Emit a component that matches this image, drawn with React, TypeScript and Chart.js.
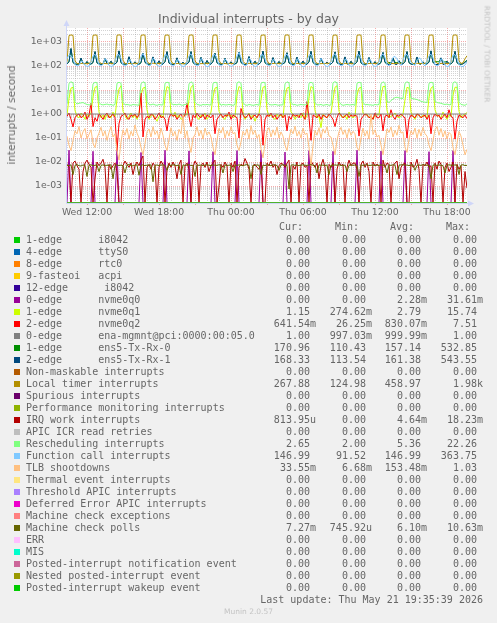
import React, { useEffect, useRef } from 'react';
import { Chart, registerables } from 'chart.js';

Chart.register(...registerables);

// time axis: minutes since Wed 00:00, one sample every 10 minutes
const START_MIN = 620; // Wed 10:20
const STEP_MIN = 10;
const END_MIN = 2620; // Thu 19:40
const HOUR_TICKS_FROM = 660;
const HOUR_TICKS_TO = 2580;
const X_LABEL_VALUES = [720, 1080, 1440, 1800, 2160, 2520];
const X_LABELS = ['Wed 12:00', 'Wed 18:00', 'Thu 00:00', 'Thu 06:00', 'Thu 12:00', 'Thu 18:00'];
const Y_MIN = 1.96e-4;
const Y_MAX = 3830;

const TITLE = 'Individual interrupts - by day';
const Y_TITLE = 'interrupts / second';

const LOCAL_TIMER = [
  150, 1850, 1970, 1890, 165, 128, 124, 127, 131, 126, 125, 129,
  142, 1880, 1960, 1920, 158, 126, 130, 127, 125, 133, 128, 126,
  147, 1900, 1980, 1910, 172, 129, 125, 128, 126, 124, 131, 127,
  139, 1870, 1975, 1930, 160, 127, 126, 132, 125, 128, 126, 130,
  151, 1890, 1965, 1900, 166, 125, 128, 126, 129, 127, 124, 128,
  144, 1860, 1980, 1915, 163, 130, 126, 125, 127, 131, 126, 127,
  148, 1895, 1970, 1925, 169, 126, 129, 127, 124, 126, 130, 125,
  141, 1880, 1975, 1905, 157, 128, 125, 130, 126, 127, 125, 129,
  153, 1870, 1960, 1935, 171, 127, 128, 126, 131, 125, 127, 126,
  146, 1900, 1980, 1910, 164, 125, 130, 128, 127, 129, 126, 128,
  140, 1885, 1970, 1920, 159, 129, 126, 125, 128, 126, 131, 127,
  149, 1875, 1965, 1900, 167, 126, 127, 130, 125, 128, 126, 125,
  143, 1890, 1975, 1930, 162, 128, 125, 127, 129, 126, 128, 130,
  150, 1865, 1980, 1915, 170, 127, 129, 126, 125, 131, 127, 126,
  145, 1895, 1970, 1905, 161, 125, 128, 130, 127, 126, 129, 128,
  147, 1880, 1960, 1925, 168, 129, 126, 127, 131, 125, 127, 126,
  142, 1890, 1975, 1910, 165, 128, 135, 200, 268,
];

const ENS5_TXRX1 = [
  125, 150, 540, 140, 121, 118, 123, 215, 130, 119, 155, 122,
  120, 140, 400, 135, 124, 117, 121, 205, 128, 122, 160, 118,
  123, 145, 430, 138, 119, 121, 118, 245, 126, 120, 150, 121,
  118, 138, 340, 142, 122, 119, 124, 240, 131, 118, 165, 120,
  121, 152, 400, 133, 120, 116, 122, 220, 125, 121, 145, 119,
  124, 146, 400, 139, 118, 120, 119, 230, 129, 117, 170, 123,
  119, 155, 340, 136, 123, 118, 121, 210, 127, 122, 150, 120,
  122, 139, 380, 141, 121, 115, 124, 250, 124, 119, 160, 118,
  120, 148, 420, 137, 119, 121, 118, 225, 130, 120, 155, 122,
  125, 142, 360, 134, 122, 117, 123, 235, 126, 118, 162, 119,
  118, 151, 410, 140, 120, 119, 121, 215, 128, 121, 148, 121,
  121, 147, 390, 136, 124, 116, 120, 240, 125, 117, 158, 120,
  123, 149, 420, 135, 118, 120, 122, 228, 131, 119, 152, 118,
  119, 141, 370, 142, 118, 115, 116, 212, 118, 116, 166, 117,
  122, 153, 400, 138, 120, 118, 123, 238, 124, 120, 150, 119,
  120, 145, 430, 139, 116, 115, 117, 220, 116, 115, 158, 122,
  124, 150, 410, 137, 120, 119, 122, 140, 168,
];

const ENS5_TXRX0 = [
  124, 148, 520, 139, 120, 119, 122, 210, 128, 118, 150, 121,
  121, 139, 390, 134, 123, 118, 120, 200, 127, 121, 155, 119,
  122, 144, 415, 137, 120, 120, 119, 238, 125, 121, 148, 120,
  119, 137, 335, 141, 121, 118, 123, 232, 129, 119, 160, 121,
  120, 150, 390, 132, 121, 117, 121, 215, 124, 120, 142, 118,
  123, 145, 392, 138, 119, 119, 120, 225, 128, 118, 165, 122,
  120, 153, 335, 135, 122, 119, 120, 205, 126, 121, 148, 121,
  121, 138, 372, 140, 120, 116, 123, 242, 123, 120, 156, 119,
  119, 147, 410, 136, 120, 120, 119, 220, 129, 119, 152, 121,
  124, 141, 352, 133, 121, 118, 122, 230, 125, 119, 158, 120,
  119, 150, 400, 139, 121, 118, 120, 210, 127, 120, 146, 120,
  120, 146, 382, 135, 123, 117, 121, 235, 124, 118, 155, 119,
  122, 148, 410, 134, 119, 119, 121, 222, 129, 120, 150, 119,
  120, 140, 360, 141, 125, 140, 138, 215, 142, 136, 160, 135,
  123, 152, 392, 137, 121, 119, 122, 232, 125, 121, 148, 120,
  128, 144, 420, 138, 150, 152, 148, 215, 150, 146, 157, 125,
  122, 149, 400, 136, 121, 118, 125, 150, 171,
];

const FUNCTION_CALL = [
  200, 290, 270, 210, 115, 100, 105, 160, 150, 104, 97, 99,
  150, 260, 310, 220, 112, 98, 118, 200, 175, 106, 96, 100,
  160, 280, 300, 200, 110, 99, 112, 190, 160, 103, 95, 98,
  140, 250, 330, 230, 118, 101, 110, 210, 180, 108, 97, 100,
  170, 300, 280, 190, 113, 97, 115, 185, 165, 102, 96, 99,
  155, 270, 320, 215, 116, 100, 108, 205, 170, 105, 94, 98,
  165, 285, 300, 205, 111, 98, 117, 195, 160, 104, 97, 101,
  145, 260, 363, 225, 119, 102, 110, 215, 175, 107, 95, 99,
  160, 290, 290, 200, 114, 99, 113, 190, 165, 103, 96, 100,
  150, 275, 315, 220, 117, 100, 111, 200, 170, 106, 92, 98,
  170, 280, 305, 210, 112, 97, 116, 210, 160, 104, 95, 101,
  155, 265, 325, 215, 115, 101, 109, 195, 175, 105, 97, 99,
  160, 280, 295, 205, 113, 98, 114, 200, 165, 103, 96, 100,
  150, 260, 320, 225, 118, 100, 140, 230, 250, 200, 130, 105,
  175, 290, 300, 210, 140, 120, 105, 180, 220, 190, 120, 100,
  160, 270, 310, 220, 115, 100, 112, 200, 175, 106, 95, 99,
  165, 285, 300, 210, 116, 97, 95, 110, 147,
];

const RESCHEDULING = [
  2.5, 19, 22, 20, 3.2, 2.6, 2.8, 2.9, 3.0, 2.7, 2.5, 2.4,
  2.4, 18, 21, 20, 3.0, 2.5, 2.4, 2.5, 2.6, 2.4, 2.5, 2.3,
  2.5, 19, 21, 19, 3.1, 2.4, 2.5, 2.4, 2.3, 2.5, 2.4, 2.4,
  2.3, 18, 22, 20, 3.3, 2.5, 2.4, 2.6, 2.4, 2.3, 2.5, 2.4,
  2.4, 19, 21, 20, 3.0, 2.4, 2.5, 2.4, 2.6, 2.4, 2.3, 2.5,
  2.5, 18, 22, 19, 3.2, 2.5, 2.4, 2.3, 2.5, 2.4, 2.5, 2.4,
  2.4, 19, 21, 20, 3.1, 2.3, 2.5, 2.4, 2.4, 2.5, 2.4, 2.3,
  2.5, 20, 22, 19, 3.0, 2.4, 2.3, 2.5, 2.4, 2.3, 2.4, 2.5,
  2.3, 19, 21, 20, 3.2, 2.5, 2.4, 2.4, 2.5, 2.4, 2.3, 2.4,
  2.4, 18, 22, 20, 3.1, 2.4, 2.5, 2.3, 2.4, 2.5, 2.4, 2.4,
  2.5, 19, 21, 19, 3.0, 2.4, 2.4, 2.5, 2.3, 2.4, 2.5, 2.3,
  2.4, 20, 22.26, 20, 3.3, 2.5, 2.3, 2.4, 2.5, 2.4, 2.4, 2.5,
  2.3, 19, 21, 20, 3.1, 2.4, 2.5, 2.4, 2.4, 2.3, 2.5, 2.4,
  2.5, 18, 22, 19, 3.4, 3.0, 3.6, 4.2, 4.8, 5.0, 4.7, 4.5,
  4.4, 19, 22, 20, 4.6, 4.3, 4.2, 4.0, 3.7, 3.4, 3.2, 3.1,
  3.0, 19, 21, 20, 3.5, 3.0, 2.9, 2.8, 2.6, 2.5, 2.6, 2.4,
  2.5, 20, 22, 19, 3.2, 2.5, 2.4, 2.3, 2.65,
];

const NVME0Q1 = [
  0.9, 4.5, 12, 13, 1.4, 0.8, 0.7, 1.1, 0.9, 0.6, 1.0, 0.8,
  1.1, 5, 13, 14, 1.2, 0.7, 0.9, 0.6, 1.0, 0.8, 0.7, 1.2,
  0.8, 4, 11, 15, 1.3, 0.9, 0.6, 0.8, 1.1, 0.7, 0.9, 0.6,
  1.0, 6, 12, 13, 1.5, 0.6, 0.8, 1.0, 0.7, 0.5, 0.8, 0.9,
  0.7, 5, 14, 12, 1.1, 0.8, 1.2, 0.7, 0.9, 0.6, 0.7, 1.0,
  0.9, 4, 13, 15.7, 1.4, 0.7, 0.6, 0.9, 0.8, 1.1, 0.6, 0.8,
  1.2, 5, 12, 13, 1.3, 0.9, 0.7, 0.6, 1.0, 0.8, 0.9, 0.7,
  0.8, 6, 14, 12, 1.2, 0.6, 0.8, 1.1, 0.7, 0.9, 0.5, 0.8,
  1.0, 4, 13, 14, 1.5, 0.8, 0.9, 0.7, 0.6, 1.0, 0.8, 0.9,
  0.7, 5, 12, 13, 1.2, 1.0, 0.6, 0.8, 0.9, 0.7, 1.1, 0.6,
  0.9, 5, 14, 12, 1.4, 0.7, 0.8, 0.27, 1.0, 0.8, 0.7, 0.9,
  1.1, 4, 13, 15, 1.3, 0.8, 0.7, 0.9, 0.6, 1.2, 0.8, 0.7,
  0.8, 6, 12, 13, 1.1, 0.9, 1.0, 0.7, 0.8, 0.6, 0.9, 1.0,
  0.9, 5, 14, 14, 1.4, 0.7, 0.8, 0.9, 1.1, 0.8, 0.7, 0.8,
  1.0, 4, 13, 12, 1.2, 0.8, 0.6, 1.0, 0.9, 0.7, 0.9, 0.8,
  0.7, 5, 12, 14, 1.5, 0.9, 0.8, 0.7, 1.2, 0.8, 0.6, 0.9,
  0.8, 6, 13, 13, 1.3, 0.7, 0.9, 1.0, 1.15,
];

const NVME0Q2 = [
  0.8, 1.1, 0.6, 0.29, 0.7, 0.9, 1.0, 0.7, 0.8, 1.2, 0.6, 0.9,
  2.8, 0.3, 0.7, 0.5, 1.0, 0.8, 0.6, 0.9, 1.1, 0.7, 0.8, 1.0,
  0.7, 0.03, 0.4, 0.8, 0.9, 1.1, 0.7, 0.6, 0.9, 0.8, 1.0, 0.7,
  0.9, 7.5, 0.11, 0.6, 0.8, 0.7, 1.0, 0.9, 0.6, 0.8, 1.1, 0.7,
  0.8, 0.6, 0.2, 0.7, 1.0, 0.8, 0.9, 0.6, 0.8, 1.0, 0.7, 0.9,
  2.8, 0.8, 0.3, 0.9, 0.7, 1.1, 0.8, 0.7, 1.0, 0.6, 0.9, 0.8,
  0.7, 0.9, 0.15, 0.6, 0.8, 1.0, 0.7, 0.9, 0.8, 1.2, 0.6, 0.9,
  0.8, 0.7, 0.1, 1.7, 0.9, 0.7, 0.8, 1.0, 0.6, 0.8, 0.9, 0.7,
  1.0, 0.8, 0.05, 0.6, 0.9, 0.8, 1.1, 0.7, 0.9, 0.6, 0.8, 1.0,
  0.7, 0.9, 0.2, 0.8, 0.6, 1.0, 0.8, 0.9, 0.7, 1.1, 0.8, 0.6,
  3.3, 0.7, 0.08, 0.9, 0.8, 0.7, 1.0, 0.6, 0.9, 0.8, 0.7, 1.0,
  0.8, 0.6, 0.3, 0.7, 1.1, 0.9, 0.7, 0.8, 1.0, 0.7, 0.9, 0.8,
  0.9, 0.8, 0.12, 0.6, 0.8, 1.0, 0.9, 0.7, 0.8, 0.6, 1.1, 0.7,
  0.7, 1.0, 0.2, 0.8, 0.9, 0.7, 1.5, 0.8, 0.6, 0.9, 0.8, 1.0,
  0.8, 0.7, 0.1, 0.6, 0.9, 0.8, 0.7, 1.0, 0.9, 0.7, 0.8, 0.9,
  0.6, 0.9, 0.15, 0.7, 1.0, 0.8, 0.9, 0.6, 0.8, 1.0, 0.7, 1.5,
  0.8, 0.7, 0.09, 0.5, 0.9, 0.8, 0.7, 0.9, 0.64,
];

const TLB_SHOOTDOWNS = [
  0.12, 0.05, 0.03, 0.08, 0.2, 0.15, 0.3, 0.1, 0.18, 0.25, 0.09, 0.14,
  0.22, 0.06, 0.04, 0.1, 0.16, 0.28, 0.12, 0.2, 0.08, 0.17, 0.3, 0.11,
  0.15, 0.03, 0.012, 0.07, 0.22, 0.13, 0.25, 0.09, 0.19, 0.12, 0.35, 0.16,
  0.1, 0.04, 0.02, 0.06, 0.18, 0.24, 0.11, 0.3, 0.14, 0.2, 0.09, 0.26,
  0.13, 0.05, 0.03, 0.09, 0.27, 0.12, 0.19, 0.08, 0.23, 0.15, 0.9, 0.1,
  0.2, 0.06, 0.025, 0.1, 0.14, 0.3, 0.12, 0.21, 0.09, 0.26, 0.13, 0.18,
  0.11, 0.04, 0.02, 0.08, 0.25, 0.16, 0.28, 0.1, 0.2, 0.12, 0.3, 0.15,
  0.17, 0.05, 0.03, 0.07, 0.19, 0.13, 0.24, 0.09, 0.33, 0.14, 0.21, 0.1,
  0.14, 0.035, 0.015, 0.06, 0.2, 0.27, 0.11, 0.22, 0.13, 0.29, 0.1, 0.18,
  0.12, 0.05, 0.03, 0.09, 0.23, 0.15, 0.31, 0.12, 0.19, 0.1, 0.26, 0.14,
  0.16, 0.04, 0.007, 0.05, 0.21, 0.13, 0.27, 0.1, 0.24, 0.16, 0.3, 0.12,
  0.11, 0.05, 0.02, 0.08, 0.18, 0.28, 0.14, 0.22, 0.1, 0.25, 0.13, 0.19,
  0.15, 0.04, 0.03, 0.1, 0.26, 0.12, 0.2, 0.09, 1.0, 0.14, 0.22, 0.11,
  0.13, 0.05, 0.02, 0.07, 0.24, 0.17, 0.29, 0.11, 0.21, 0.13, 0.34, 0.16,
  0.18, 0.04, 0.025, 0.09, 0.2, 0.14, 0.26, 0.1, 0.23, 0.12, 0.28, 0.15,
  0.12, 0.05, 0.03, 0.08, 0.22, 0.3, 0.13, 0.25, 0.11, 0.2, 0.09, 0.17,
  0.14, 0.04, 0.02, 0.06, 0.19, 0.12, 0.05, 0.02, 0.034,
];

const IRQ_WORK = [
  0.008, 0.006, 0, 0.009, 0.011, 0.007, 0.005, 0, 0.004, 0.009, 0.012, 0.008,
  0.006, 0, 0.002, 0.01, 0.007, 0.009, 0.013, 0.006, 0, 0.008, 0.005, 0.007,
  0.009, 0.004, 0, 0, 0.007, 0.011, 0.008, 0.006, 0.009, 0.003, 0.007, 0.01,
  0.007, 0.012, 0.018, 0, 0.006, 0.008, 0.005, 0.009, 0.007, 0, 0.006, 0.011,
  0.008, 0, 0.005, 0.009, 0.006, 0.01, 0.007, 0.002, 0.008, 0.012, 0, 0.007,
  0.009, 0.005, 0, 0.006, 0.011, 0.008, 0, 0.007, 0.009, 0.006, 0.01, 0.004,
  0.007, 0.009, 0.012, 0, 0.001, 0.008, 0.006, 0.01, 0.007, 0, 0.009, 0.006,
  0.011, 0, 0.006, 0.008, 0.007, 0.014, 0.009, 0.005, 0, 0.007, 0.008, 0.006,
  0.005, 0.01, 0, 0, 0.009, 0.007, 0.011, 0.006, 0.008, 0.003, 0.007, 0.009,
  0.008, 0.006, 0.009, 0.012, 0, 0.007, 0.005, 0.01, 0, 0.008, 0.009, 0.006,
  0.007, 0, 0.011, 0.008, 0.006, 0.009, 0.002, 0.007, 0.013, 0.006, 0, 0.008,
  0.006, 0.009, 0, 0.005, 0.01, 0.007, 0.008, 0, 0.006, 0.012, 0.007, 0.009,
  0.009, 0.005, 0, 0.008, 0.011, 0.006, 0.009, 0.004, 0, 0.01, 0.007, 0.008,
  0.007, 0, 0.012, 0.006, 0.009, 0.008, 0, 0.007, 0.009, 0.011, 0.002, 0.006,
  0.008, 0.009, 0, 0, 0.01, 0.006, 0.007, 0.013, 0.005, 0, 0.008, 0.007,
  0.01, 0.006, 0.007, 0, 0.009, 0.005, 0.011, 0.008, 0, 0.006, 0.009, 0.004,
  0.006, 0.01, 0, 0.008, 0.005, 0.007, 0, 0.004, 0.00081,
];

const MC_POLLS = [
  0.0074, 0.0071, 0.0076, 0.0030, 0.0073, 0.0078, 0.0070, 0.0068, 0.0075, 0.0072, 0.0025, 0.0074,
  0.0077, 0.0070, 0.0073, 0.0075, 0.0040, 0.0072, 0.0076, 0.0069, 0.0074, 0.0071, 0.0077, 0.0020,
  0.0073, 0.0076, 0.0071, 0.0074, 0.0070, 0.0035, 0.0075, 0.0078, 0.0072, 0.0069, 0.0074, 0.0076,
  0.0028, 0.0073, 0.0077, 0.0070, 0.0074, 0.0072, 0.0076, 0.0015, 0.0073, 0.0075, 0.0071, 0.0074,
  0.0076, 0.0072, 0.0045, 0.0075, 0.0071, 0.0077, 0.0073, 0.0070, 0.0074, 0.0030, 0.0076, 0.0072,
  0.0074, 0.0078, 0.0071, 0.0073, 0.0025, 0.0076, 0.0072, 0.0075, 0.0070, 0.0074, 0.0077, 0.0073,
  0.0071, 0.0075, 0.0074, 0.0072, 0.0077, 0.0073, 0.0035, 0.0076, 0.0071, 0.0074, 0.0072, 0.0040,
  0.0075, 0.0072, 0.0076, 0.0073, 0.0070, 0.0075, 0.0078, 0.0072, 0.0020, 0.0074, 0.0071, 0.0076,
  0.0073, 0.0030, 0.0075, 0.0071, 0.0076, 0.0073, 0.0070, 0.0077, 0.0074, 0.0072, 0.0045, 0.0075,
  0.0076, 0.0074, 0.0071, 0.00075, 0.0073, 0.0077, 0.0072, 0.0075, 0.0070, 0.0074, 0.0076, 0.0073,
  0.0072, 0.0075, 0.0078, 0.0073, 0.0071, 0.0035, 0.0076, 0.0073, 0.0074, 0.0071, 0.0075, 0.0030,
  0.0074, 0.0071, 0.0076, 0.0073, 0.0077, 0.0072, 0.0070, 0.0075, 0.0040, 0.0073, 0.0076, 0.0072,
  0.0075, 0.0073, 0.0025, 0.0076, 0.0072, 0.0074, 0.0078, 0.0071, 0.0073, 0.0075, 0.0070, 0.0074,
  0.0072, 0.0076, 0.0073, 0.0074, 0.0035, 0.0075, 0.0072, 0.0077, 0.0074, 0.0030, 0.0073, 0.0076,
  0.0077, 0.0073, 0.0075, 0.0071, 0.0074, 0.0076, 0.0045, 0.0073, 0.0075, 0.0072, 0.0078, 0.0074,
  0.0073, 0.0075, 0.0020, 0.0074, 0.0076, 0.0072, 0.0075, 0.0073, 0.0070, 0.0035, 0.0074, 0.0076,
  0.0074, 0.0072, 0.0076, 0.0073, 0.0030, 0.0075, 0.0077, 0.0071, 0.00727,
];

const NVME0Q0 = [
  0, 0.031, 0, 0, 0, 0, 0, 0, 0, 0, 0, 0,
  0, 0.028, 0, 0, 0, 0, 0, 0, 0, 0, 0, 0,
  0, 0.03, 0, 0, 0, 0, 0, 0, 0, 0, 0, 0,
  0, 0.025, 0, 0, 0, 0, 0, 0, 0, 0, 0, 0,
  0, 0.031, 0, 0, 0, 0, 0, 0, 0, 0, 0, 0,
  0, 0.029, 0, 0, 0, 0, 0, 0, 0, 0, 0, 0,
  0, 0.027, 0, 0, 0, 0, 0, 0, 0, 0, 0, 0,
  0, 0.03, 0, 0, 0, 0, 0, 0, 0, 0, 0, 0,
  0, 0.031, 0, 0, 0, 0, 0, 0, 0, 0, 0, 0,
  0, 0.026, 0, 0, 0, 0, 0, 0, 0, 0, 0, 0,
  0, 0.03, 0, 0, 0, 0, 0, 0, 0, 0, 0, 0,
  0, 0.028, 0, 0, 0, 0, 0, 0, 0, 0, 0, 0,
  0, 0.031, 0, 0, 0, 0, 0, 0, 0, 0, 0, 0,
  0, 0.029, 0, 0, 0, 0, 0, 0, 0, 0, 0, 0,
  0, 0.03, 0, 0, 0, 0, 0, 0, 0, 0, 0, 0,
  0, 0.027, 0, 0, 0, 0, 0, 0, 0, 0, 0, 0,
  0, 0.03, 0, 0, 0, 0, 0, 0, 0,
];

const N_SAMPLES = LOCAL_TIMER.length;
// series whose Cur/Min/Avg/Max are all 0.00, and the ena-mgmnt queue that stays at 1.00
const ALL_ZERO = new Array(N_SAMPLES).fill(0);
const ENA_MGMNT = new Array(N_SAMPLES).fill(1);

const LEGEND_NAMES = [
  '1-edge      i8042',
  '4-edge      ttyS0',
  '8-edge      rtc0',
  '9-fasteoi   acpi',
  '12-edge      i8042',
  '0-edge      nvme0q0',
  '1-edge      nvme0q1',
  '2-edge      nvme0q2',
  '0-edge      ena-mgmnt@pci:0000:00:05.0',
  '1-edge      ens5-Tx-Rx-0',
  '2-edge      ens5-Tx-Rx-1',
  'Non-maskable interrupts',
  'Local timer interrupts',
  'Spurious interrupts',
  'Performance monitoring interrupts',
  'IRQ work interrupts',
  'APIC ICR read retries',
  'Rescheduling interrupts',
  'Function call interrupts',
  'TLB shootdowns',
  'Thermal event interrupts',
  'Threshold APIC interrupts',
  'Deferred Error APIC interrupts',
  'Machine check exceptions',
  'Machine check polls',
  'ERR',
  'MIS',
  'Posted-interrupt notification event',
  'Nested posted-interrupt event',
  'Posted-interrupt wakeup event',
];

const LEGEND_COLORS = [
  '#00CC00', '#0066B3', '#FF8000', '#FFCC00', '#330099', '#990099', '#CCFF00', '#FF0000',
  '#808080', '#008F00', '#00487D', '#B35A00', '#B38F00', '#6B006B', '#8FB300', '#B30000',
  '#BEBEBE', '#80FF80', '#80C9FF', '#FFC080', '#FFE680', '#AA80FF', '#EE00CC', '#FF8080',
  '#666600', '#FFBFFF', '#00FFCC', '#CC6699', '#999900', '#00CC00',
];

const SERIES_VALUES = [
  ALL_ZERO, ALL_ZERO, ALL_ZERO, ALL_ZERO, ALL_ZERO, NVME0Q0, NVME0Q1, NVME0Q2,
  ENA_MGMNT, ENS5_TXRX0, ENS5_TXRX1, ALL_ZERO, LOCAL_TIMER, ALL_ZERO, ALL_ZERO, IRQ_WORK,
  ALL_ZERO, RESCHEDULING, FUNCTION_CALL, TLB_SHOOTDOWNS, ALL_ZERO, ALL_ZERO, ALL_ZERO, ALL_ZERO,
  MC_POLLS, ALL_ZERO, ALL_ZERO, ALL_ZERO, ALL_ZERO, ALL_ZERO,
];

const CUR = [
  '0.00', '0.00', '0.00', '0.00', '0.00', '0.00', '1.15', '641.54m', '1.00', '170.96', '168.33',
  '0.00', '267.88', '0.00', '0.00', '813.95u', '0.00', '2.65', '146.99', '33.55m', '0.00', '0.00',
  '0.00', '0.00', '7.27m', '0.00', '0.00', '0.00', '0.00', '0.00',
];
const MIN = [
  '0.00', '0.00', '0.00', '0.00', '0.00', '0.00', '274.62m', '26.25m', '997.03m', '110.43', '113.54',
  '0.00', '124.98', '0.00', '0.00', '0.00', '0.00', '2.00', '91.52', '6.68m', '0.00', '0.00',
  '0.00', '0.00', '745.92u', '0.00', '0.00', '0.00', '0.00', '0.00',
];
const AVG = [
  '0.00', '0.00', '0.00', '0.00', '0.00', '2.28m', '2.79', '830.07m', '999.99m', '157.14', '161.38',
  '0.00', '458.97', '0.00', '0.00', '4.64m', '0.00', '5.36', '146.99', '153.48m', '0.00', '0.00',
  '0.00', '0.00', '6.10m', '0.00', '0.00', '0.00', '0.00', '0.00',
];
const MAX = [
  '0.00', '0.00', '0.00', '0.00', '0.00', '31.61m', '15.74', '7.51', '1.00', '532.85', '543.55',
  '0.00', '1.98k', '0.00', '0.00', '18.23m', '0.00', '22.26', '363.75', '1.03', '0.00', '0.00',
  '0.00', '0.00', '10.63m', '0.00', '0.00', '0.00', '0.00', '0.00',
];
const COLUMN_HEADS = ['Cur:', 'Min:', 'Avg:', 'Max:'];
const LAST_UPDATE = 'Last update: Thu May 21 19:35:39 2026';
const VERSION = 'Munin 2.0.57';
const WATERMARK = 'RRDTOOL / TOBI OETIKER';

const FONT_COLOR = '#666666';
const AXIS_COLOR = '#CFD6F8';
const MAJOR_GRID = 'rgba(235, 90, 90, 0.5)';
const MINOR_GRID = 'rgba(150, 150, 150, 0.42)';

const W = 497;
const H = 623;
const PLOT = { left: 67, top: 28, right: 467, bottom: 203 };

function isDecade(v: number) {
  const e = Math.round(Math.log10(v));
  return Math.abs(v - Math.pow(10, e)) < 1e-9 * Math.pow(10, e);
}

function decadeLabel(v: number) {
  const e = Math.round(Math.log10(v));
  return '1e' + (e >= 0 ? '+' : '-') + String(Math.abs(e)).padStart(2, '0');
}

const plotDecor = {
  id: 'plotDecor',
  beforeDraw(chart: any) {
    const { ctx, chartArea: a } = chart;
    ctx.save();
    ctx.fillStyle = '#FFFFFF';
    ctx.fillRect(a.left, a.top, a.right - a.left, a.bottom - a.top);
    ctx.restore();
  },
  beforeDatasetsDraw(chart: any) {
    const { ctx, chartArea: a } = chart;
    ctx.save();
    ctx.strokeStyle = AXIS_COLOR;
    ctx.fillStyle = AXIS_COLOR;
    ctx.lineWidth = 1;
    ctx.beginPath();
    ctx.moveTo(a.left - 0.5, a.bottom + 0.5);
    ctx.lineTo(a.left - 0.5, a.top - 4);
    ctx.moveTo(a.left - 0.5, a.bottom + 0.5);
    ctx.lineTo(a.right + 4, a.bottom + 0.5);
    ctx.stroke();
    ctx.beginPath();
    ctx.moveTo(a.left - 0.5, a.top - 8);
    ctx.lineTo(a.left - 3.5, a.top - 2);
    ctx.lineTo(a.left + 2.5, a.top - 2);
    ctx.closePath();
    ctx.fill();
    ctx.beginPath();
    ctx.moveTo(a.right + 7, a.bottom + 0.5);
    ctx.lineTo(a.right + 1, a.bottom - 2.5);
    ctx.lineTo(a.right + 1, a.bottom + 3.5);
    ctx.closePath();
    ctx.fill();
    ctx.restore();
  },
};

const MONO: React.CSSProperties = {
  position: 'absolute',
  font: '10px "DejaVu Sans Mono", monospace',
  lineHeight: '12px',
  whiteSpace: 'pre',
  color: FONT_COLOR,
};

const VALUE_RIGHT = [316, 372, 427, 483];
const HEAD_RIGHT = [303, 359, 414, 470];
const ROW0_CENTER = 240;
const ROW_STEP = 12;

function withSuffix(v: string) {
  return /\d$/.test(v) ? v + ' ' : v;
}

export default function App() {
  const canvasRef = useRef<HTMLCanvasElement>(null);

  useEffect(() => {
    const canvas = canvasRef.current;
    if (!canvas) return;
    // a log axis cannot show 0: like rrdtool, zero samples are drawn at the floor of the axis
    const datasets = LEGEND_NAMES.map((name, i) => ({
      label: name,
      data: SERIES_VALUES[i].map((v, j) => ({ x: START_MIN + j * STEP_MIN, y: v > 0 ? v : Y_MIN })),
      borderColor: LEGEND_COLORS[i],
      backgroundColor: LEGEND_COLORS[i],
      borderWidth: 1,
      pointRadius: 0,
      tension: 0,
      fill: false,
      order: 100 - i,
    }));

    const chart = new Chart(canvas, {
      type: 'line',
      data: { datasets },
      plugins: [plotDecor],
      options: {
        animation: false,
        responsive: false,
        devicePixelRatio: 1,
        events: [],
        layout: {
          padding: { left: 0, top: PLOT.top, right: W - PLOT.right, bottom: H - PLOT.bottom - 20 },
        },
        plugins: {
          legend: { display: false },
          tooltip: { enabled: false },
          title: { display: false },
        },
        scales: {
          x: {
            type: 'linear',
            min: START_MIN,
            max: END_MIN,
            afterBuildTicks: (scale: any) => {
              const t = [];
              for (let v = HOUR_TICKS_FROM; v <= HOUR_TICKS_TO; v += 60) t.push({ value: v });
              scale.ticks = t;
            },
            afterFit: (scale: any) => {
              scale.height = 20;
            },
            ticks: {
              autoSkip: false,
              maxRotation: 0,
              minRotation: 0,
              padding: 2,
              color: FONT_COLOR,
              font: { family: '"DejaVu Sans", sans-serif', size: 9.33 },
              callback: (v: any) => {
                const k = X_LABEL_VALUES.indexOf(Number(v));
                return k >= 0 ? X_LABELS[k] : '';
              },
            },
            grid: {
              drawTicks: true,
              tickLength: 2,
              lineWidth: 1,
              color: (c: any) => (c.tick && c.tick.value % 180 === 0 ? MAJOR_GRID : MINOR_GRID),
              tickColor: (c: any) => (c.tick && c.tick.value % 180 === 0 ? MAJOR_GRID : 'rgba(0,0,0,0)'),
            },
            border: { display: false, dash: [1, 1] },
          },
          y: {
            type: 'logarithmic',
            min: Y_MIN,
            max: Y_MAX,
            afterBuildTicks: (scale: any) => {
              const t = [];
              for (let e = -4; e <= 3; e++) {
                for (let m = 1; m <= 9; m++) {
                  const v = m * Math.pow(10, e);
                  if (v >= Y_MIN && v <= Y_MAX) t.push({ value: v });
                }
              }
              scale.ticks = t;
            },
            afterFit: (scale: any) => {
              scale.width = PLOT.left;
            },
            ticks: {
              autoSkip: false,
              padding: 5,
              color: FONT_COLOR,
              font: { family: '"DejaVu Sans", sans-serif', size: 9.33 },
              callback: (v: any) => (isDecade(Number(v)) ? decadeLabel(Number(v)) : ''),
            },
            grid: {
              drawTicks: false,
              lineWidth: 1,
              color: (c: any) => (c.tick && isDecade(c.tick.value) ? MAJOR_GRID : MINOR_GRID),
            },
            border: { display: false, dash: [1, 1] },
          },
        },
      } as any,
    });
    return () => chart.destroy();
  }, []);

  return (
    <div
      style={{
        position: 'absolute',
        left: 0,
        top: 0,
        width: W,
        height: H,
        background: '#F0F0F0',
        overflow: 'hidden',
      }}
    >
      <canvas ref={canvasRef} width={W} height={H} style={{ position: 'absolute', left: 0, top: 0 }} />
      <div
        style={{
          position: 'absolute',
          left: 0,
          top: 11,
          width: W,
          textAlign: 'center',
          font: '12.5px "DejaVu Sans", sans-serif',
          lineHeight: '16px',
          color: FONT_COLOR,
        }}
      >
        {TITLE}
      </div>
      <div
        style={{
          position: 'absolute',
          left: 11,
          top: 115,
          transform: 'translate(-50%, -50%) rotate(-90deg)',
          font: '10.5px "DejaVu Sans", sans-serif',
          lineHeight: '12px',
          whiteSpace: 'nowrap',
          color: FONT_COLOR,
        }}
      >
        {Y_TITLE}
      </div>
      <div
        style={{
          position: 'absolute',
          left: 487,
          top: 54,
          transform: 'translate(-50%, -50%) rotate(90deg)',
          font: '7.5px "DejaVu Sans", sans-serif',
          lineHeight: '9px',
          whiteSpace: 'nowrap',
          color: '#C4C4C4',
        }}
      >
        {WATERMARK}
      </div>
      {COLUMN_HEADS.map((h, k) => (
        <div key={'h' + k} style={{ ...MONO, right: W - HEAD_RIGHT[k], top: 221 }}>
          {h}
        </div>
      ))}
      {LEGEND_NAMES.map((name, i) => {
        const cy = ROW0_CENTER + ROW_STEP * i;
        const cols = [CUR[i], MIN[i], AVG[i], MAX[i]];
        return (
          <React.Fragment key={i}>
            <div
              style={{
                position: 'absolute',
                left: 14,
                top: cy - 3,
                width: 6,
                height: 6,
                background: LEGEND_COLORS[i],
              }}
            />
            <div style={{ ...MONO, left: 26, top: cy - 6 }}>{name}</div>
            {cols.map((v, k) => (
              <div key={k} style={{ ...MONO, right: W - VALUE_RIGHT[k], top: cy - 6 }}>
                {withSuffix(v)}
              </div>
            ))}
          </React.Fragment>
        );
      })}
      <div style={{ ...MONO, right: W - 483, top: 594 }}>{LAST_UPDATE}</div>
      <div
        style={{
          position: 'absolute',
          left: 0,
          width: W,
          top: 607,
          textAlign: 'center',
          font: '7.5px "DejaVu Sans", sans-serif',
          lineHeight: '10px',
          color: '#C4C4C4',
        }}
      >
        {VERSION}
      </div>
    </div>
  );
}
